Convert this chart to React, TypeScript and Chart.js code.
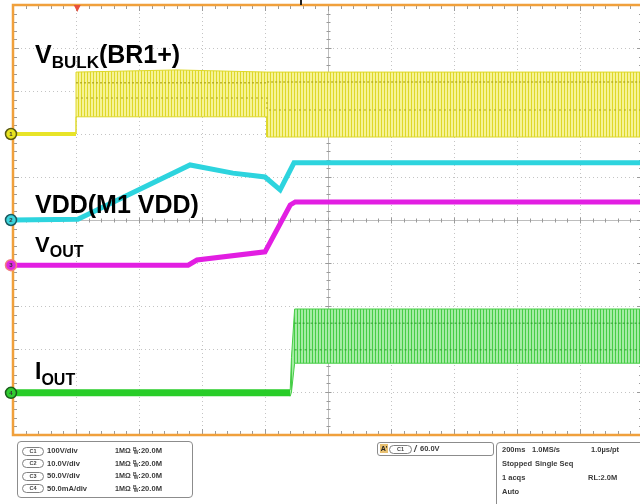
import React, { useEffect, useRef } from "react";
import { Chart, registerables } from "chart.js";
Chart.register(...registerables);

// Screen is 10 x 10 divisions (200 ms/div); the right edge is slightly cropped
const TIME_DIVS = 9.952;
const VERT_DIVS = 10;

// CH1  V_BULK(BR1+)  (band = min / max envelope of the ripple)
const bulkStartX = [0, 1.0];
const bulkStartY = [7.0, 7.0];
const bulkX = [1.0, 1.0, 2.6, 4.03, 4.03, 9.952];
const bulkTop = [7.0, 8.44, 8.49, 8.44, 8.44, 8.44];
const bulkBot = [7.0, 7.4, 7.4, 7.4, 6.93, 6.93];
const bulkDenseX = [1.0, 4.03, 4.03, 9.952];
const bulkDenseHi = [8.19, 8.19, 8.21, 8.21];
const bulkDenseLo = [7.84, 7.84, 7.56, 7.56];

// CH2  VDD(M1 VDD)
const vddX = [0, 1.03, 2.81, 3.49, 4.0, 4.24, 4.46, 9.952];
const vddY = [5.0, 5.02, 6.28, 6.09, 6.0, 5.7, 6.33, 6.33];

// CH3  V_OUT
const voutX = [0, 2.78, 2.92, 4.0, 4.4, 4.48, 9.952];
const voutY = [3.95, 3.95, 4.07, 4.26, 5.35, 5.42, 5.42];

// CH4  I_OUT
const ioutStartX = [0, 4.4];
const ioutStartY = [0.98, 0.98];
const ioutX = [4.4, 4.42, 4.47, 9.952];
const ioutTop = [1.05, 1.8, 2.93, 2.93];
const ioutBot = [0.9, 1.0, 1.67, 1.67];
const ioutDenseX = [4.47, 9.952];
const ioutDenseHi = [2.6, 2.6];
const ioutDenseLo = [1.98, 1.98];

// channel ground markers and trigger
const channelNames = ["1", "2", "3", "4"];
const channelLevels = [7.0, 5.0, 3.95, 0.98];
const channelColors = ["#e8e420", "#3cd4dc", "#e028e0", "#30cc30"];
const channelEdges = ["#5a5a10", "#1a5a60", "#f08080", "#1a5a1a"];
const triggerTime = 1.02;

// readout panel text
const chLabels = ["C1", "C2", "C3", "C4"];
const chScales = ["100V/div", "10.0V/div", "50.0V/div", "50.0mA/div"];
const chImpedance = "1MΩ";
const chBandwidth = ":20.0M";
const triggerLevel = "60.0V";
const acqRows = [
  ["200ms", "1.0MS/s", "1.0µs/pt"],
  ["Stopped", "Single Seq", ""],
  ["1 acqs", "", "RL:2.0M"],
  ["Auto", "", ""],
];

const pts = (xs: number[], ys: number[]) => xs.map((x, i) => ({ x, y: ys[i] }));

function stripes(dark: string, light: string) {
  const c = document.createElement("canvas");
  c.width = 3;
  c.height = 4;
  const g = c.getContext("2d")!;
  g.fillStyle = light;
  g.fillRect(0, 0, 3, 4);
  g.fillStyle = dark;
  g.fillRect(0, 0, 1, 4);
  return g.createPattern(c, "repeat")!;
}

const scopeGrid = {
  id: "scopeGrid",
  beforeDatasetsDraw(chart: any) {
    const { ctx, chartArea: a, scales } = chart;
    const x = scales.x,
      y = scales.y;
    const line = (x1: number, y1: number, x2: number, y2: number) => {
      ctx.beginPath();
      ctx.moveTo(x1, y1);
      ctx.lineTo(x2, y2);
      ctx.stroke();
    };
    ctx.save();
    ctx.lineWidth = 1;
    ctx.strokeStyle = "#c4c4c4";
    ctx.setLineDash([1, 3]);
    for (let i = 1; i < 10; i++) {
      if (i === 5) continue;
      const px = Math.round(x.getPixelForValue(i)) + 0.5;
      line(px, a.top, px, a.bottom);
      const py = Math.round(y.getPixelForValue(i)) + 0.5;
      line(a.left, py, a.right, py);
    }
    ctx.setLineDash([]);
    const cx = Math.round(x.getPixelForValue(5)) + 0.5;
    const cy = Math.round(y.getPixelForValue(5)) + 0.5;
    ctx.strokeStyle = "#bdbdbd";
    line(cx, a.top, cx, a.bottom);
    line(a.left, cy, a.right, cy);
    ctx.strokeStyle = "#9a9a9a";
    const rightEdge = x.getPixelForValue(10);
    for (let t = 0; t <= 50; t++) {
      const v = t / 5;
      const len = t % 5 === 0 ? 6 : 4;
      const px = Math.round(x.getPixelForValue(v)) + 0.5;
      line(px, cy - len / 2, px, cy + len / 2);
      line(px, a.top, px, a.top + len);
      line(px, a.bottom - len, px, a.bottom);
      const py = Math.round(y.getPixelForValue(v)) + 0.5;
      line(cx - len / 2, py, cx + len / 2, py);
      line(a.left, py, a.left + len, py);
      line(rightEdge - len, py, rightEdge, py);
    }
    ctx.restore();
  },
};

const scopeFrame = {
  id: "scopeFrame",
  afterDatasetsDraw(chart: any) {
    const { ctx, chartArea: a, scales } = chart;
    const x = scales.x,
      y = scales.y;
    ctx.save();
    ctx.strokeStyle = "#f0a03c";
    ctx.lineWidth = 2.5;
    ctx.beginPath();
    ctx.moveTo(chart.width, a.top);
    ctx.lineTo(a.left, a.top);
    ctx.lineTo(a.left, a.bottom);
    ctx.lineTo(chart.width, a.bottom);
    ctx.stroke();
    // trigger position marker
    const tx = x.getPixelForValue(triggerTime);
    ctx.fillStyle = "#e8503c";
    ctx.beginPath();
    ctx.moveTo(tx - 3.5, a.top);
    ctx.lineTo(tx + 3.5, a.top);
    ctx.lineTo(tx, a.top + 7);
    ctx.closePath();
    ctx.fill();
    // channel markers
    channelLevels.forEach((lv, i) => {
      const py = y.getPixelForValue(lv);
      const px = a.left - 2;
      ctx.beginPath();
      ctx.arc(px, py, 5.5, 0, Math.PI * 2);
      ctx.fillStyle = channelColors[i];
      ctx.fill();
      ctx.lineWidth = 1.5;
      ctx.strokeStyle = channelEdges[i];
      ctx.stroke();
      ctx.fillStyle = "#333";
      ctx.font = "bold 6px 'Liberation Sans', Arial, sans-serif";
      ctx.textAlign = "center";
      ctx.textBaseline = "middle";
      ctx.fillText(channelNames[i], px, py + 0.5);
    });
    ctx.restore();
  },
};

const FONT = '"Liberation Sans", Arial, Helvetica, sans-serif';

function Label(props: { left: number; top: number; size: number; main: string; sub?: string; subSize?: number; subDrop?: number; rest?: string }) {
  return (
    <div
      style={{
        position: "absolute",
        left: props.left,
        top: props.top,
        fontFamily: FONT,
        fontWeight: 700,
        fontSize: props.size,
        lineHeight: 1,
        color: "#000",
        whiteSpace: "nowrap",
      }}
    >
      {props.main}
      {props.sub ? (
        <span style={{ fontSize: props.subSize, position: "relative", top: props.subDrop }}>{props.sub}</span>
      ) : null}
      {props.rest ?? ""}
    </div>
  );
}

const smallText: React.CSSProperties = {
  position: "absolute",
  fontFamily: FONT,
  fontWeight: 700,
  color: "#3a3a3a",
  whiteSpace: "nowrap",
  lineHeight: "10px",
};

function Pill(props: { left: number; top: number; text: string; width?: number }) {
  return (
    <div
      style={{
        position: "absolute",
        left: props.left,
        top: props.top,
        width: props.width ?? 20,
        height: 7,
        border: "1px solid #808080",
        borderRadius: 5,
        fontFamily: FONT,
        fontSize: 5.5,
        lineHeight: "7px",
        textAlign: "center",
        color: "#444",
        fontWeight: 700,
      }}
    >
      {props.text}
    </div>
  );
}

export default function App() {
  const ref = useRef<HTMLCanvasElement>(null);
  useEffect(() => {
    const canvas = ref.current!;
    const yellowFill = stripes("rgb(222,216,40)", "rgb(246,243,150)");
    const greenFill = stripes("rgb(70,205,70)", "rgb(165,236,165)");
    const base = { pointRadius: 0, tension: 0, fill: false as any };
    const chart = new Chart(canvas, {
      type: "line",
      data: {
        datasets: [
          { ...base, order: 5, label: "VBULK max", data: pts(bulkX, bulkTop), borderColor: "rgb(222,216,40)", borderWidth: 1 },
          { ...base, order: 5, label: "VBULK min", data: pts(bulkX, bulkBot), borderColor: "rgb(222,216,40)", borderWidth: 1, fill: "-1", backgroundColor: yellowFill },
          { ...base, order: 4, label: "VBULK dense hi", data: pts(bulkDenseX, bulkDenseHi), borderColor: "rgba(170,160,20,0.75)", borderWidth: 1.5, borderDash: [2, 2] },
          { ...base, order: 4, label: "VBULK dense lo", data: pts(bulkDenseX, bulkDenseLo), borderColor: "rgba(170,160,20,0.6)", borderWidth: 1.5, borderDash: [2, 3] },
          { ...base, order: 3, label: "VBULK", data: pts(bulkStartX, bulkStartY), borderColor: "rgb(232,228,40)", borderWidth: 4 },
          { ...base, order: 2, label: "VDD", data: pts(vddX, vddY), borderColor: "rgb(45,212,222)", borderWidth: 5 },
          { ...base, order: 1, label: "VOUT", data: pts(voutX, voutY), borderColor: "rgb(226,30,226)", borderWidth: 5 },
          { ...base, order: 3, label: "IOUT", data: pts(ioutStartX, ioutStartY), borderColor: "rgb(40,205,40)", borderWidth: 7 },
          { ...base, order: 5, label: "IOUT max", data: pts(ioutX, ioutTop), borderColor: "rgb(70,205,70)", borderWidth: 1 },
          { ...base, order: 5, label: "IOUT min", data: pts(ioutX, ioutBot), borderColor: "rgb(70,205,70)", borderWidth: 1, fill: "-1", backgroundColor: greenFill },
          { ...base, order: 4, label: "IOUT dense hi", data: pts(ioutDenseX, ioutDenseHi), borderColor: "rgba(30,150,30,0.6)", borderWidth: 1.5, borderDash: [2, 2] },
          { ...base, order: 4, label: "IOUT dense lo", data: pts(ioutDenseX, ioutDenseLo), borderColor: "rgba(30,150,30,0.6)", borderWidth: 1.5, borderDash: [2, 3] },
        ],
      },
      options: {
        animation: false,
        responsive: false,
        devicePixelRatio: 1,
        layout: { padding: { left: 13, top: 5, right: 0, bottom: 69 } },
        scales: {
          x: { type: "linear", min: 0, max: TIME_DIVS, display: false },
          y: { type: "linear", min: 0, max: VERT_DIVS, display: false },
        },
        plugins: { legend: { display: false }, tooltip: { enabled: false } },
      },
      plugins: [scopeGrid, scopeFrame],
    });
    return () => chart.destroy();
  }, []);

  const rowCenters1 = [451, 463.5, 476, 488.5];
  const rowCenters3 = [450, 464, 478, 492];

  return (
    <div style={{ position: "absolute", left: 0, top: 0, width: 640, height: 504, overflow: "hidden", background: "#fff" }}>
      <canvas ref={ref} width={640} height={504} style={{ position: "absolute", left: 0, top: 0, width: 640, height: 504 }} />
      {/* top cut-off fragment */}
      <div style={{ position: "absolute", left: 300, top: 0, width: 2, height: 5, background: "#222" }} />

      <Label left={35} top={42} size={25} main="V" sub="BULK" subSize={17} subDrop={5} rest="(BR1+)" />
      <Label left={35} top={192} size={25} main="VDD(M1 VDD)" />
      <Label left={35} top={234} size={22} main="V" sub="OUT" subSize={16} subDrop={5} />
      <Label left={35} top={360} size={23} main="I" sub="OUT" subSize={16} subDrop={6} />

      {/* channel readout */}
      <div style={{ position: "absolute", left: 17, top: 441, width: 174, height: 55, border: "1.5px solid #8c8c8c", borderRadius: 4 }} />
      {chLabels.map((c, i) => (
        <React.Fragment key={c}>
          <Pill left={22} top={rowCenters1[i] - 4.5} text={c} />
          <div style={{ ...smallText, left: 47, top: rowCenters1[i] - 5, fontSize: 7.6 }}>{chScales[i]}</div>
          <div style={{ ...smallText, left: 115, top: rowCenters1[i] - 5, fontSize: 7.2 }}>{chImpedance}</div>
          <div style={{ ...smallText, left: 133, top: rowCenters1[i] - 5, fontSize: 7.6 }}>
            <span style={{ fontSize: 5, position: "relative", top: -2 }}>B</span>
            <span style={{ fontSize: 5, position: "relative", top: 1, left: -3 }}>W</span>
            <span style={{ marginLeft: -3 }}>{chBandwidth}</span>
          </div>
        </React.Fragment>
      ))}

      {/* trigger readout */}
      <div style={{ position: "absolute", left: 377, top: 442, width: 115, height: 12, border: "1.5px solid #8c8c8c", borderRadius: 3 }} />
      <div style={{ ...smallText, left: 380, top: 444, width: 8, height: 9, lineHeight: "9px", fontSize: 7, background: "#e8c070", textAlign: "center", color: "#222" }}>A'</div>
      <Pill left={389} top={444.5} text="C1" width={21} />
      <div style={{ ...smallText, left: 414, top: 444, fontSize: 9, lineHeight: "10px", fontStyle: "italic" }}>/</div>
      <div style={{ ...smallText, left: 420, top: 443.5, fontSize: 7.5 }}>{triggerLevel}</div>

      {/* acquisition readout */}
      <div style={{ position: "absolute", left: 496, top: 442, width: 160, height: 70, border: "1.5px solid #8c8c8c", borderRadius: 4 }} />
      {acqRows.map((r, i) => (
        <React.Fragment key={i}>
          <div style={{ ...smallText, left: 502, top: rowCenters3[i] - 5, fontSize: 7.5 }}>{r[0]}</div>
          {r[1] ? <div style={{ ...smallText, left: i === 0 ? 532 : 535, top: rowCenters3[i] - 5, fontSize: 7.5 }}>{r[1]}</div> : null}
          {r[2] ? <div style={{ ...smallText, left: i === 0 ? 591 : 588, top: rowCenters3[i] - 5, fontSize: 7.5 }}>{r[2]}</div> : null}
        </React.Fragment>
      ))}
    </div>
  );
}
